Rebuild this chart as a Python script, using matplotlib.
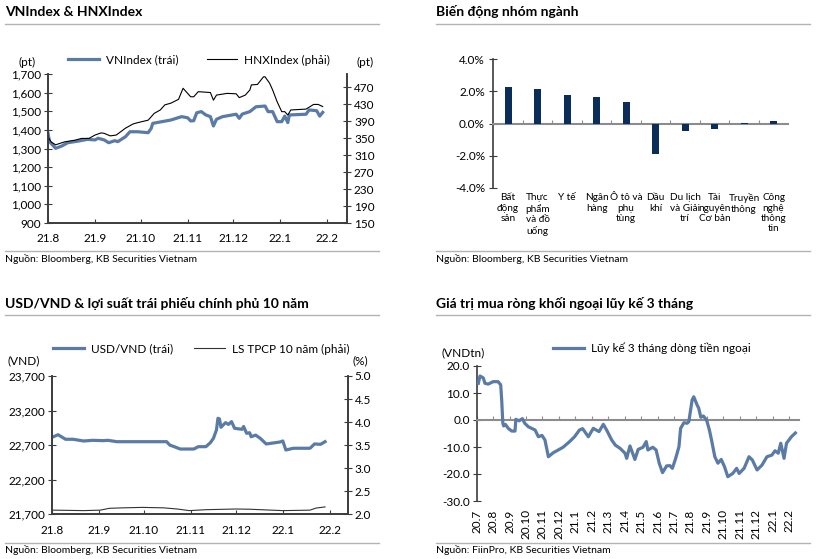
import matplotlib
matplotlib.use('Agg')
import matplotlib.pyplot as plt
from matplotlib.lines import Line2D
from matplotlib.ticker import FuncFormatter, MultipleLocator

plt.rcParams['font.family'] = ['Lato', 'DejaVu Sans']

W, H = 821, 559
def fx(px): return px / W
def fy(py): return 1 - py / H

BLUE = '#5b7ba7'
NAVY = '#0b2d59'
GREY = '#b4b4b4'
AXC = '#3c3c3c'

# ---- VNIndex & HNXIndex (x = days since 2021-08-01)
vn_days = [0, 1, 5, 9, 13, 20, 26, 31, 33, 37, 40, 44, 46, 51, 54, 59, 66, 68, 69, 73, 81, 88,
           92, 94, 96, 98, 101, 104, 107, 109, 111, 115, 124, 126, 128, 133, 137, 143, 145, 148,
           151, 154, 156, 158, 159, 170, 172, 177, 179, 181]
vn_vals = [1382, 1337, 1301, 1313, 1331, 1340, 1349, 1346, 1355, 1346, 1331, 1342, 1337, 1363,
           1390, 1390, 1385, 1408, 1435, 1441, 1453, 1471, 1465, 1448, 1449, 1492, 1498, 1480,
           1471, 1421, 1457, 1471, 1484, 1462, 1485, 1498, 1524, 1528, 1498, 1498, 1444, 1444,
           1474, 1439, 1480, 1484, 1507, 1503, 1474, 1494]
hnx_days = [0, 2, 5, 11, 18, 22, 27, 31, 35, 37, 41, 45, 51, 56, 59, 66, 70, 74, 77, 81, 86, 89,
            92, 94, 96, 99, 107, 109, 111, 118, 124, 126, 130, 133, 134, 138, 142, 143, 146, 148,
            151, 154, 156, 158, 160, 170, 175, 178, 181]
hnx_vals = [353, 341, 334, 341, 345, 349, 349, 357, 362, 361, 355, 357, 373, 383, 386, 392, 408,
            416, 428, 432, 441, 467, 455, 447, 447, 459, 457, 439, 451, 455, 454, 445, 451, 463,
            475, 476, 494, 494, 479, 463, 435, 412, 412, 404, 416, 418, 429, 429, 424]

month_days = [0, 31, 61, 92, 122, 153, 184]
month_labels = ['21.8', '21.9', '21.10', '21.11', '21.12', '22.1', '22.2']

# ---- sector performance
sectors = ['Bất\nđộng\nsản', 'Thực\nphẩm\nvà đồ\nuống', 'Y tế', 'Ngân\nhàng', 'Ô tô và\nphụ\ntùng',
           'Dầu\nkhí', 'Du lịch\nvà Giải\ntrí', 'Tài\nnguyên\nCơ bản', 'Truyền\nthông',
           'Công\nnghệ\nthông\ntin']
sector_chg = [2.29, 2.12, 1.75, 1.66, 1.35, -1.92, -0.48, -0.36, 0.05, 0.17]

# ---- USD/VND & 10Y government bond yield (x = days since 2021-08-01)
fx_days = [1, 4, 9, 14, 21, 27, 34, 37, 43, 54, 65, 76, 78, 81, 85, 94, 97, 102, 105, 107, 109,
           110, 111, 112, 115, 117, 119, 121, 126, 127, 129, 131, 132, 135, 138, 142, 151, 153,
           155, 160, 171, 174, 178, 181]
fx_vals = [22822, 22851, 22785, 22785, 22760, 22770, 22765, 22770, 22750, 22750, 22750, 22750,
           22702, 22678, 22644, 22644, 22678, 22678, 22736, 22799, 22919, 23088, 23080, 22958,
           23025, 23000, 23040, 22944, 22929, 22970, 22871, 22880, 22822, 22845, 22799, 22717,
           22745, 22760, 22630, 22655, 22655, 22717, 22712, 22750]
yld_days = [1, 21, 32, 38, 47, 60, 74, 83, 91, 102, 122, 131, 153, 171, 175, 181]
yld_vals = [2.09, 2.08, 2.09, 2.13, 2.14, 2.15, 2.14, 2.115, 2.08, 2.10, 2.115, 2.11, 2.08, 2.09,
            2.135, 2.16]

# ---- foreign net buying, 3M cumulative (x = months since 2020-07)
ff_month = [0.1, 0.2, 0.4, 0.5, 0.7, 1.0, 1.3, 1.46, 1.52, 1.59, 1.64, 1.74, 1.92, 2.13, 2.33,
            2.38, 2.58, 2.78, 2.92, 3.14, 3.55, 3.75, 3.97, 4.15, 4.36, 4.66, 4.96, 5.25, 5.65,
            5.95, 6.25, 6.44, 6.79, 7.09, 7.44, 7.7, 7.9, 8.21, 8.43, 8.72, 9.02, 9.12, 9.32,
            9.62, 9.82, 10.11, 10.31, 10.41, 10.71, 10.91, 11.1, 11.3, 11.55, 11.75, 11.9, 12.1,
            12.3, 12.4, 12.6, 12.8, 12.9, 13.1, 13.2, 13.4, 13.5, 13.63, 13.78, 13.98, 14.15,
            14.28, 14.48, 14.67, 14.87, 15.07, 15.27, 15.57, 15.81, 15.96, 16.26, 16.56, 16.76,
            17.05, 17.35, 17.65, 17.95, 18.14, 18.34, 18.49, 18.69, 18.84, 19.14, 19.38]
ff_vals = [13.6, 16.3, 15.6, 13.6, 13.3, 14.2, 14.2, 13.0, 7.4, -1.2, -2.2, -1.6, -3.1, -4.1,
           -4.1, 0.25, -0.3, 0.5, -1.2, -2.5, -3.7, -6.2, -5.7, -7.4, -13.6, -12.1, -11.1,
           -10.1, -8.0, -6.2, -3.7, -3.2, -6.2, -3.1, -4.3, -1.6, -3.7, -7.4, -9.3, -10.5,
           -12.3, -14.2, -9.6, -14.6, -10.9, -10.1, -8.0, -11.1, -10.1, -11.1, -16.0, -19.5,
           -17.0, -16.9, -17.9, -14.2, -9.9, -3.1, -1.0, -1.2, -0.6, 7.4, 8.6, 5.6, 4.4, 1.0,
           1.5, 0.0, -3.7, -7.4, -13.6, -16.0, -14.6, -17.3, -21.0, -19.8, -17.9, -19.8, -17.9,
           -13.6, -14.8, -18.5, -16.7, -13.6, -13.0, -11.4, -12.3, -8.6, -14.2, -8.6, -6.2, -4.8]
ff_labels = ['20.7', '20.8', '20.9', '20.10', '20.11', '20.12', '21.1', '21.2', '21.3', '21.4',
             '21.5', '21.6', '21.7', '21.8', '21.9', '21.10', '21.11', '21.12', '22.1', '22.2']

fig = plt.figure(figsize=(W / 100, H / 100), dpi=100)

TS = 8.5   # tick font size


def header(x0, ytxt, yline, title):
    fig.text(fx(x0), fy(ytxt), title, fontsize=10, fontweight='bold', va='center', ha='left')
    fig.add_artist(Line2D([fx(x0), fx(x0 + 374)], [fy(yline), fy(yline)], color=GREY, lw=1))


def footer(x0, yline, ytxt, text):
    fig.add_artist(Line2D([fx(x0), fx(x0 + 374)], [fy(yline), fy(yline)], color=GREY, lw=1))
    fig.text(fx(x0), fy(ytxt), text, fontsize=7.5, va='center', ha='left')


def axes_px(l, t, r, b):
    return fig.add_axes([fx(l), fy(b), (r - l) / W, (b - t) / H])


def style_spines(ax, keep):
    for s in ['left', 'right', 'top', 'bottom']:
        ax.spines[s].set_visible(s in keep)
        ax.spines[s].set_color(AXC)
        ax.spines[s].set_linewidth(1.2)


comma = FuncFormatter(lambda v, p: f'{v:,.0f}')

# ================= panel 1
header(5, 12, 24, 'VNIndex & HNXIndex')
ax1 = axes_px(48, 74, 347, 223)
ax1r = ax1.twinx()
l1, = ax1.plot(vn_days, vn_vals, color=BLUE, lw=2.3, zorder=2)
l2, = ax1r.plot(hnx_days, hnx_vals, color='black', lw=0.8)
ax1.set_xlim(0, 197)
ax1.set_ylim(900, 1700)
ax1r.set_ylim(150, 500.6)
ax1.yaxis.set_major_locator(MultipleLocator(100))
ax1.yaxis.set_major_formatter(comma)
ax1r.set_yticks(range(150, 471, 40))
ax1.set_xticks(month_days, month_labels)
for a in (ax1, ax1r):
    style_spines(a, ['left', 'right', 'bottom'])
ax1.tick_params(axis='y', direction='inout', length=6, labelsize=TS, color=AXC, pad=2)
ax1r.tick_params(axis='y', direction='inout', length=6, labelsize=TS, color=AXC, pad=2)
ax1.tick_params(axis='x', direction='in', length=3, labelsize=TS, color=AXC, pad=7)
fig.text(fx(27), fy(62), '(pt)', fontsize=TS, ha='center', va='center')
fig.text(fx(365), fy(62), '(pt)', fontsize=TS, ha='center', va='center')
ax1.legend([l1, l2], ['VNIndex (trái)', 'HNXIndex (phải)'], loc='center left',
           bbox_to_anchor=(fx(68), fy(60)), bbox_transform=fig.transFigure, ncol=2,
           frameon=False, fontsize=TS, handlelength=2.6, handletextpad=0.6,
           columnspacing=2.4, borderpad=0, borderaxespad=0)
footer(5, 250.5, 259, 'Nguồn: Bloomberg, KB Securities Vietnam')

# ================= panel 2
header(436, 12, 24, 'Biến động nhóm ngành')
ax2 = axes_px(493.3, 59.3, 788.3, 187.7)
pos = [i + 0.5 for i in range(len(sectors))]
ax2.bar(pos, sector_chg, width=0.24, color=NAVY, zorder=3)
ax2.set_xlim(0, len(sectors))
ax2.set_ylim(-4, 4)
ax2.set_yticks([-4, -2, 0, 2, 4])
ax2.yaxis.set_major_formatter(FuncFormatter(lambda v, p: f'{v:.1f}%'))
style_spines(ax2, ['left', 'bottom'])
ax2.spines['bottom'].set_position(('data', 0))
ax2.spines['bottom'].set_color('#8c8c8c')
ax2.spines['bottom'].set_linewidth(1.5)
ax2.set_xticks(range(1, len(sectors)))
ax2.tick_params(axis='x', direction='in', length=3, labelbottom=False, color='#8c8c8c')
ax2.tick_params(axis='y', direction='inout', length=6, labelsize=TS, color=AXC, pad=3)
sec2 = ax2.secondary_xaxis('bottom')
sec2.set_xticks(pos, sectors)
sec2.tick_params(length=0, labelsize=7.2, pad=4)
sec2.spines['bottom'].set_visible(False)
footer(436, 250.5, 259, 'Nguồn: Bloomberg, KB Securities Vietnam')

# ================= panel 3
header(5, 304, 315, 'USD/VND & lợi suất trái phiếu chính phủ 10 năm')
ax3 = axes_px(52, 376, 347.7, 514.3)
ax3r = ax3.twinx()
l3, = ax3.plot(fx_days, fx_vals, color=BLUE, lw=2.3)
l4, = ax3r.plot(yld_days, yld_vals, color='#333333', lw=0.8)
ax3.set_xlim(0, 196)
ax3.set_ylim(21700, 23700)
ax3.set_yticks(range(21700, 23701, 500))
ax3.yaxis.set_major_formatter(comma)
ax3r.set_ylim(2.0, 5.0)
ax3r.yaxis.set_major_locator(MultipleLocator(0.5))
ax3r.yaxis.set_major_formatter(FuncFormatter(lambda v, p: f'{v:.1f}'))
ax3.set_xticks(month_days, month_labels)
for a in (ax3, ax3r):
    style_spines(a, ['left', 'right', 'bottom'])
ax3.tick_params(axis='y', direction='inout', length=6, labelsize=TS, color=AXC, pad=2)
ax3r.tick_params(axis='y', direction='inout', length=6, labelsize=TS, color=AXC, pad=2)
ax3.tick_params(axis='x', direction='in', length=3, labelsize=TS, color=AXC, pad=8)
fig.text(fx(24), fy(361), '(VND)', fontsize=TS, ha='center', va='center')
fig.text(fx(360), fy(361), '(%)', fontsize=TS, ha='center', va='center')
ax3.legend([l3, l4], ['USD/VND (trái)', 'LS TPCP 10 năm (phải)'], loc='center left',
           bbox_to_anchor=(fx(53), fy(349)), bbox_transform=fig.transFigure, ncol=2,
           frameon=False, fontsize=TS, handlelength=2.6, handletextpad=0.6,
           columnspacing=1.8, borderpad=0, borderaxespad=0)
footer(5, 543.3, 550, 'Nguồn: Bloomberg, KB Securities Vietnam')

# ================= panel 4
header(436, 304, 315, 'Giá trị mua ròng khối ngoại lũy kế 3 tháng')
ax4 = axes_px(476.7, 366, 799, 501)
l5, = ax4.plot(ff_month, ff_vals, color=BLUE, lw=2.3, zorder=3)
ax4.set_xlim(0, 19.6)
ax4.set_ylim(-30, 20)
ax4.yaxis.set_major_locator(MultipleLocator(10))
ax4.yaxis.set_major_formatter(FuncFormatter(lambda v, p: f'{v:.1f}'))
style_spines(ax4, ['left', 'bottom'])
ax4.spines['bottom'].set_position(('data', 0))
ax4.spines['bottom'].set_color('#8c8c8c')
ax4.spines['bottom'].set_linewidth(1.5)
ax4.set_xticks(range(len(ff_labels)))
ax4.tick_params(axis='x', direction='in', length=3, labelbottom=False, color='#8c8c8c')
ax4.tick_params(axis='y', direction='inout', length=6, labelsize=TS, color=AXC, pad=2)
sec4 = ax4.secondary_xaxis('bottom')
sec4.set_xticks(range(len(ff_labels)), ff_labels)
sec4.tick_params(length=0, labelsize=TS, pad=6, labelrotation=90)
sec4.spines['bottom'].set_visible(False)
fig.text(fx(463), fy(353), '(VNDtn)', fontsize=TS, ha='center', va='center')
ax4.legend([l5], ['Lũy kế 3 tháng dòng tiền ngoại'], loc='center left',
           bbox_to_anchor=(fx(553), fy(348)), bbox_transform=fig.transFigure,
           frameon=False, fontsize=TS, handlelength=2.6, handletextpad=0.6,
           borderpad=0, borderaxespad=0)
footer(436, 543.3, 550, 'Nguồn: FiinPro, KB Securities Vietnam')

fig.savefig('out.png', dpi=100)
